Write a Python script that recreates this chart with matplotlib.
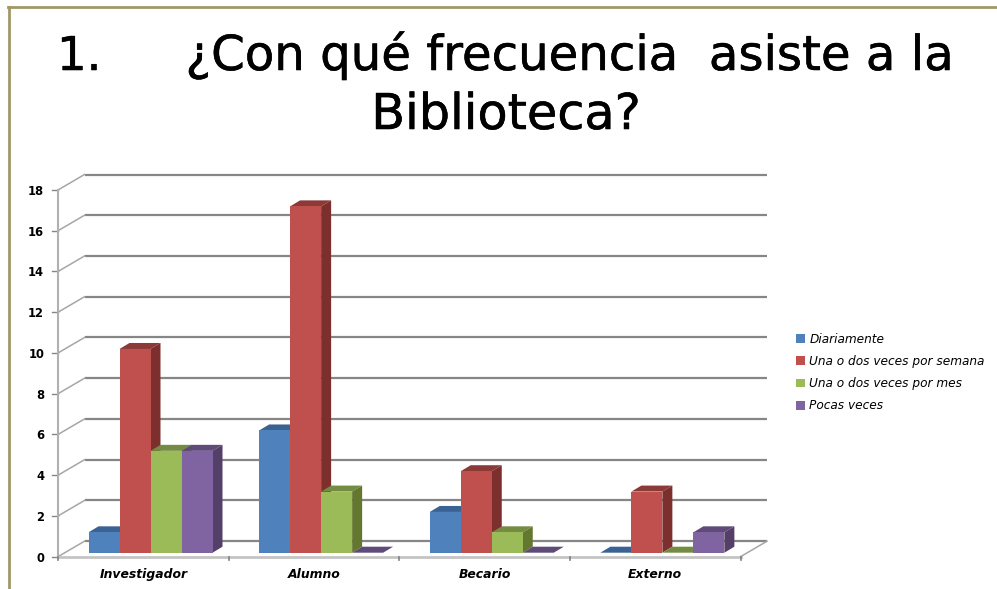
import matplotlib
matplotlib.use("Agg")
import matplotlib.pyplot as plt
import matplotlib.patheffects as pe
from matplotlib.patches import Polygon
from matplotlib.lines import Line2D

categories = ["Investigador", "Alumno", "Becario", "Externo"]
series_names = ["Diariamente", "Una o dos veces por semana", "Una o dos veces por mes", "Pocas veces"]
diariamente = [1, 6, 2, 0]
semanal = [10, 17, 4, 3]
mensual = [5, 3, 1, 0]
pocas = [5, 0, 0, 1]
series = [diariamente, semanal, mensual, pocas]
y_ticks = list(range(0, 20, 2))

front = ["#4F81BD", "#C0504D", "#9BBB59", "#8064A2"]
top = ["#3A6292", "#8C3A38", "#738C42", "#5F4A7A"]
side = ["#3A6292", "#7C2F2D", "#64772F", "#543F68"]

W, H = 997, 589
fig = plt.figure(figsize=(W / 100, H / 100), dpi=100, facecolor="white")
X0, X1, Y0, Y18 = 58, 740.5, 556.7, 190
ax = fig.add_axes([X0 / W, 1 - Y0 / H, (X1 - X0) / W, (Y0 - Y18) / H])
ax.set_xlim(0, 4)
ax.set_ylim(0, 18)
ax.patch.set_visible(False)
for s in ax.spines.values():
    s.set_visible(False)

ux = (X1 - X0) / 4      # px per category
uy = (Y0 - Y18) / 18    # px per value
dX, dY = 26.5 / ux, 15.5 / uy   # wall depth
bx, by = 10 / ux, 6 / uy        # bar depth
lift = 4 / uy                   # bar base above the front floor edge
bw = 31 / ux
start = 30.5 / ux

# walls
for v in y_ticks:
    ax.plot([dX, 4 + dX], [v + dY] * 2, color="#868686", lw=1.6, clip_on=False, zorder=1,
            solid_capstyle="butt")
    ax.plot([0, dX], [v, v + dY], color="#A6A6A6", lw=1.1, clip_on=False, zorder=1)
    ax.plot([-6 / ux, 0], [v, v], color="#868686", lw=1.0, clip_on=False, zorder=1)
ax.plot([0, 0], [0, 18], color="#B0B0B0", lw=1.5, clip_on=False, zorder=2)
ax.plot([0, 4], [0, 0], color="#C4C4C4", lw=2, clip_on=False, zorder=2)
ax.plot([4, 4 + dX], [0, dY], color="#A6A6A6", lw=1.1, clip_on=False, zorder=2)
for i in range(5):
    ax.plot([i, i], [0, -3.5 / uy], color="#808080", lw=1.2, clip_on=False, zorder=2)

# bars
z = 3
for c in range(len(categories)):
    for s in range(len(series)):
        v = series[s][c]
        x = c + start + s * bw
        b = lift
        t = lift + v
        ax.add_patch(Polygon([(x, t), (x + bx, t + by), (x + bw + bx, t + by), (x + bw, t)],
                             closed=True, fc=top[s], ec="none", zorder=z, clip_on=False))
        if v > 0:
            ax.add_patch(Polygon([(x + bw, b), (x + bw + bx, b + by), (x + bw + bx, t + by), (x + bw, t)],
                                 closed=True, fc=side[s], ec="none", zorder=z, clip_on=False))
            ax.bar(x, v, bw, bottom=b, align="edge", color=front[s], zorder=z + 0.5, clip_on=False)
        z += 1

ax.set_xticks([i + 0.5 for i in range(4)])
ax.set_xticklabels(categories, fontsize=8.9, fontweight="bold", fontstyle="italic", family="DejaVu Sans")
ax.set_yticks(y_ticks)
ax.set_yticklabels([str(v) for v in y_ticks], fontsize=8.3, fontweight="bold", family="DejaVu Sans")
ax.tick_params(axis="both", length=0)
ax.tick_params(axis="x", pad=8)
ax.tick_params(axis="y", pad=10)

handles = [Polygon([(0, 0)], closed=True, fc=front[i], ec="none") for i in range(4)]
fig.legend(handles, series_names, loc="upper left", bbox_to_anchor=(796 / W, 1 - 333 / H),
           bbox_transform=fig.transFigure, frameon=False, ncol=1,
           prop={"family": "DejaVu Sans", "style": "italic", "size": 8.75},
           handlelength=0.74, handleheight=0.74, handletextpad=0.35, labelspacing=0.75,
           borderpad=0, borderaxespad=0)

# title
bold = [pe.withStroke(linewidth=0.4, foreground="black")]
fig.text(57 / W, 1 - 70 / H, "1.", fontsize=33.5, family="DejaVu Sans", color="black",
         va="baseline", path_effects=bold)
fig.text(569 / W, 1 - 70 / H, "¿Con qué frecuencia  asiste a la", fontsize=34.7, family="DejaVu Sans",
         color="black", va="baseline", ha="center", path_effects=bold)
fig.text(506 / W, 1 - 129 / H, "Biblioteca?", fontsize=35.5, family="DejaVu Sans", color="black",
         va="baseline", ha="center", path_effects=bold)

# slide border
border = "#A09868"
fig.add_artist(Line2D([9 / W, 9 / W], [0, 1 - 6.5 / H], color=border, lw=2, transform=fig.transFigure))
fig.add_artist(Line2D([8 / W, 1], [1 - 6.5 / H] * 2, color=border, lw=2, transform=fig.transFigure))

fig.savefig("out.png", dpi=100, facecolor="white")
